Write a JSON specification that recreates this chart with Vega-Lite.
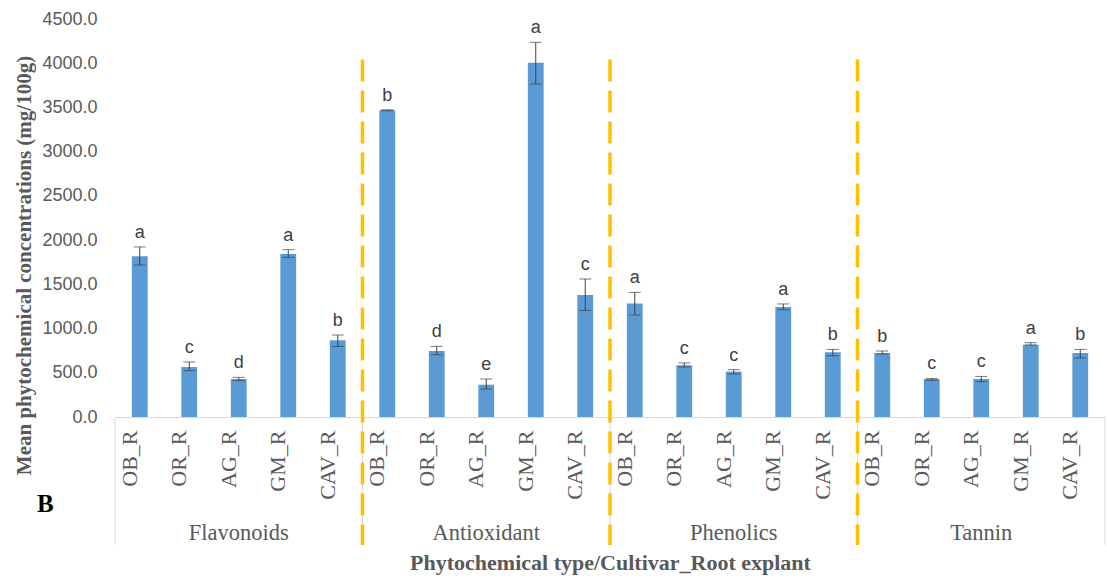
{
  "$schema": "https://vega.github.io/schema/vega-lite/v6.json",
  "width": 990,
  "height": 398,
  "autosize": {"type": "none"},
  "padding": {"left": 115, "top": 19, "right": 2, "bottom": 161},
  "background": "white",
  "config": {"view": {"stroke": null}, "axis": {"grid": false}},
  "title": {"text": "B", "orient": "top", "anchor": "start", "frame": "group", "offset": 0, "dx": -78, "dy": 527, "font": "Liberation Serif", "fontSize": 25, "fontWeight": "bold", "color": "#000000", "baseline": "alphabetic", "align": "left"},
  "datasets": {
    "bars": [
      {"group": "Flavonoids", "cultivar": "OB_R", "key": "Flavonoids|OB_R", "mean": 1817, "lo": 1719, "hi": 1923, "letter": "a"},
      {"group": "Flavonoids", "cultivar": "OR_R", "key": "Flavonoids|OR_R", "mean": 565, "lo": 524, "hi": 622, "letter": "c"},
      {"group": "Flavonoids", "cultivar": "AG_R", "key": "Flavonoids|AG_R", "mean": 430, "lo": 411, "hi": 448, "letter": "d"},
      {"group": "Flavonoids", "cultivar": "GM_R", "key": "Flavonoids|GM_R", "mean": 1844, "lo": 1805, "hi": 1892, "letter": "a"},
      {"group": "Flavonoids", "cultivar": "CAV_R", "key": "Flavonoids|CAV_R", "mean": 867, "lo": 798, "hi": 927, "letter": "b"},
      {"group": "Antioxidant", "cultivar": "OB_R", "key": "Antioxidant|OB_R", "mean": 3468, "lo": 3462, "hi": 3474, "letter": "b"},
      {"group": "Antioxidant", "cultivar": "OR_R", "key": "Antioxidant|OR_R", "mean": 747, "lo": 704, "hi": 798, "letter": "d"},
      {"group": "Antioxidant", "cultivar": "AG_R", "key": "Antioxidant|AG_R", "mean": 365, "lo": 317, "hi": 430, "letter": "e"},
      {"group": "Antioxidant", "cultivar": "GM_R", "key": "Antioxidant|GM_R", "mean": 4005, "lo": 3765, "hi": 4236, "letter": "a"},
      {"group": "Antioxidant", "cultivar": "CAV_R", "key": "Antioxidant|CAV_R", "mean": 1380, "lo": 1205, "hi": 1560, "letter": "c"},
      {"group": "Phenolics", "cultivar": "OB_R", "key": "Phenolics|OB_R", "mean": 1282, "lo": 1153, "hi": 1409, "letter": "a"},
      {"group": "Phenolics", "cultivar": "OR_R", "key": "Phenolics|OR_R", "mean": 584, "lo": 565, "hi": 611, "letter": "c"},
      {"group": "Phenolics", "cultivar": "AG_R", "key": "Phenolics|AG_R", "mean": 513, "lo": 486, "hi": 535, "letter": "c"},
      {"group": "Phenolics", "cultivar": "GM_R", "key": "Phenolics|GM_R", "mean": 1244, "lo": 1213, "hi": 1278, "letter": "a"},
      {"group": "Phenolics", "cultivar": "CAV_R", "key": "Phenolics|CAV_R", "mean": 731, "lo": 693, "hi": 764, "letter": "b"},
      {"group": "Tannin", "cultivar": "OB_R", "key": "Tannin|OB_R", "mean": 724, "lo": 712, "hi": 746, "letter": "b"},
      {"group": "Tannin", "cultivar": "OR_R", "key": "Tannin|OR_R", "mean": 430, "lo": 414, "hi": 436, "letter": "c"},
      {"group": "Tannin", "cultivar": "AG_R", "key": "Tannin|AG_R", "mean": 430, "lo": 399, "hi": 459, "letter": "c"},
      {"group": "Tannin", "cultivar": "GM_R", "key": "Tannin|GM_R", "mean": 818, "lo": 814, "hi": 840, "letter": "a"},
      {"group": "Tannin", "cultivar": "CAV_R", "key": "Tannin|CAV_R", "mean": 724, "lo": 667, "hi": 764, "letter": "b"}
    ],
    "groups": [
      {"group": "Flavonoids", "first": "Flavonoids|OB_R", "middle": "Flavonoids|AG_R"},
      {"group": "Antioxidant", "first": "Antioxidant|OB_R", "middle": "Antioxidant|AG_R"},
      {"group": "Phenolics", "first": "Phenolics|OB_R", "middle": "Phenolics|AG_R"},
      {"group": "Tannin", "first": "Tannin|OB_R", "middle": "Tannin|AG_R"}
    ],
    "separators": [
      {"first": "Antioxidant|OB_R"},
      {"first": "Phenolics|OB_R"},
      {"first": "Tannin|OB_R"}
    ],
    "lastband": [
      {"last": "Tannin|CAV_R"}
    ]
  },
  "layer": [
    {
      "data": {"name": "bars"},
      "mark": {"type": "bar", "width": {"band": 0.32}, "color": "#5B9BD5"},
      "encoding": {
        "x": {
          "field": "key",
          "type": "nominal",
          "title": "Phytochemical type/Cultivar_Root explant",
          "scale": {
            "domain": ["Flavonoids|OB_R", "Flavonoids|OR_R", "Flavonoids|AG_R", "Flavonoids|GM_R", "Flavonoids|CAV_R",
                       "Antioxidant|OB_R", "Antioxidant|OR_R", "Antioxidant|AG_R", "Antioxidant|GM_R", "Antioxidant|CAV_R",
                       "Phenolics|OB_R", "Phenolics|OR_R", "Phenolics|AG_R", "Phenolics|GM_R", "Phenolics|CAV_R",
                       "Tannin|OB_R", "Tannin|OR_R", "Tannin|AG_R", "Tannin|GM_R", "Tannin|CAV_R"],
            "paddingInner": 0,
            "paddingOuter": 0
          },
          "axis": {
            "titleFont": "Liberation Serif",
            "titleFontSize": 22,
            "titleFontWeight": "bold",
            "titleColor": "#595959",
            "titleX": 495,
            "titleY": 152,
            "titleAlign": "center",
            "titleBaseline": "alphabetic",
            "labelExpr": "split(datum.label, '|')[1]",
            "labelAngle": -90,
            "labelFont": "Liberation Serif",
            "labelFontSize": 22,
            "labelColor": "#595959",
            "labelPadding": 13,
            "labelOffset": -10,
            "ticks": false,
            "domainColor": "#D9D9D9",
            "domainWidth": 1
          }
        },
        "y": {
          "field": "mean",
          "type": "quantitative",
          "title": "Mean phytochemical concentrations (mg/100g)",
          "scale": {"domain": [0, 4500], "nice": false, "zero": true},
          "axis": {
            "titleFont": "Liberation Serif",
            "titleFontSize": 21,
            "titleFontWeight": "bold",
            "titleColor": "#595959",
            "titleX": -85,
            "titleY": 246,
            "titleAngle": -90,
            "titleAlign": "center",
            "titleBaseline": "alphabetic",
            "values": [0, 500, 1000, 1500, 2000, 2500, 3000, 3500, 4000, 4500],
            "format": ".1f",
            "labelFont": "Liberation Sans",
            "labelFontSize": 18,
            "labelColor": "#595959",
            "labelPadding": 18,
            "ticks": false,
            "domain": false
          }
        }
      }
    },
    {
      "data": {"name": "bars"},
      "mark": {"type": "errorbar", "ticks": {"size": 12, "color": "#404040", "thickness": 1}, "rule": {"color": "#404040", "strokeWidth": 1}},
      "encoding": {
        "x": {"field": "key", "type": "nominal", "title": "Phytochemical type/Cultivar_Root explant"},
        "y": {"field": "lo", "type": "quantitative", "title": "Mean phytochemical concentrations (mg/100g)"},
        "y2": {"field": "hi"}
      }
    },
    {
      "data": {"name": "bars"},
      "mark": {"type": "text", "font": "Liberation Sans", "fontSize": 18, "color": "#404040", "baseline": "alphabetic", "dy": -9},
      "encoding": {
        "x": {"field": "key", "type": "nominal", "title": "Phytochemical type/Cultivar_Root explant"},
        "y": {"field": "hi", "type": "quantitative", "title": "Mean phytochemical concentrations (mg/100g)"},
        "text": {"field": "letter"}
      }
    },
    {
      "data": {"name": "groups"},
      "mark": {"type": "rule", "color": "#D9D9D9", "strokeWidth": 1},
      "encoding": {
        "x": {"field": "first", "type": "nominal", "bandPosition": 0, "title": "Phytochemical type/Cultivar_Root explant"},
        "y": {"datum": 0, "title": "Mean phytochemical concentrations (mg/100g)"},
        "y2": {"datum": -1447}
      }
    },
    {
      "data": {"name": "lastband"},
      "mark": {"type": "rule", "color": "#D9D9D9", "strokeWidth": 1},
      "encoding": {
        "x": {"field": "last", "type": "nominal", "bandPosition": 1, "title": "Phytochemical type/Cultivar_Root explant"},
        "y": {"datum": 0, "title": "Mean phytochemical concentrations (mg/100g)"},
        "y2": {"datum": -1447}
      }
    },
    {
      "data": {"name": "separators"},
      "mark": {"type": "rule", "color": "#FFC000", "strokeWidth": 3.5, "strokeDash": [22, 9]},
      "encoding": {
        "x": {"field": "first", "type": "nominal", "bandPosition": 0, "title": "Phytochemical type/Cultivar_Root explant"},
        "y": {"datum": 4042, "title": "Mean phytochemical concentrations (mg/100g)"},
        "y2": {"datum": -1447}
      }
    },
    {
      "data": {"name": "groups"},
      "mark": {"type": "text", "font": "Liberation Serif", "fontSize": 22.5, "color": "#595959", "baseline": "alphabetic", "align": "center"},
      "encoding": {
        "x": {"field": "middle", "type": "nominal", "title": "Phytochemical type/Cultivar_Root explant"},
        "y": {"datum": -1387, "title": "Mean phytochemical concentrations (mg/100g)"},
        "text": {"field": "group"}
      }
    }
  ]
}
